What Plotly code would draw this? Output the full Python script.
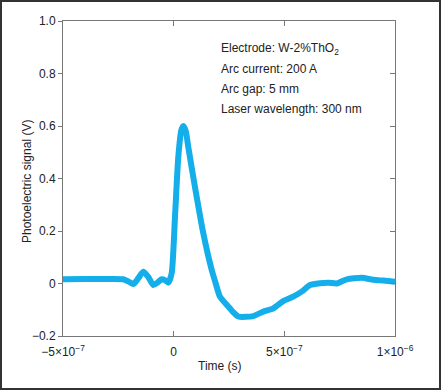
import plotly.graph_objects as go

# time in units of 1e-7 s
time_e7 = [-5.0, -4.0, -3.0, -2.28, -2.05, -1.82, -1.6, -1.37, -1.15, -0.92, -0.72, -0.54, -0.38, -0.24,
           -0.09, 0.06, 0.21, 0.35, 0.44, 0.55, 0.66, 0.96, 1.34, 1.72, 1.9, 2.09, 2.47, 2.7, 2.92,
           3.25, 3.60, 4.05, 4.50, 4.95, 5.40, 5.8, 6.16, 6.61, 7.0, 7.37, 7.82, 8.50, 9.02, 9.5, 10.0]
signal = [0.016, 0.017, 0.017, 0.016, 0.008, -0.002, 0.02, 0.045, 0.025, -0.006, 0.004, 0.016, 0.012, 0.003,
          0.039, 0.254, 0.483, 0.585, 0.600, 0.580, 0.520, 0.369, 0.191, 0.051, 0.0, -0.05, -0.088, -0.11, -0.126,
          -0.127, -0.124, -0.107, -0.095, -0.067, -0.05, -0.03, -0.006, 0.001, 0.003, 0.0, 0.016, 0.022, 0.014, 0.011, 0.007]

time_s = [t * 1e-7 for t in time_e7]

x_tickvals = [-5e-7, 0, 5e-7, 1e-6]
x_ticktext = ["\u22125\u00d710<sup>\u22127</sup>", "0", "5\u00d710<sup>\u22127</sup>", "1\u00d710<sup>\u22126</sup>"]
y_tickvals = [-0.2, 0, 0.2, 0.4, 0.6, 0.8, 1.0]
y_ticktext = ["\u22120.2", "0", "0.2", "0.4", "0.6", "0.8", "1.0"]

info_lines = ["Electrode: W-2%ThO<sub>2</sub>", "Arc current: 200 A", "Arc gap: 5 mm", "Laser wavelength: 300 nm"]
x_title = "Time (s)"
y_title = "Photoelectric signal (V)"

W, H = 441, 390
ml, mr, mt, mb = 63, 46, 21, 54
pw, ph = W - ml - mr, H - mt - mb
FONT = "Liberation Sans, Arial, sans-serif"
AX = "#777777"
TXT = "#222222"


def px_x(p):
    return (p - ml) / pw


def px_y(p):
    return 1 - (p - mt) / ph


fig = go.Figure()
fig.add_trace(go.Scatter(x=time_s, y=signal, mode="lines",
                         line=dict(color="#14AEEA", width=6, shape="spline", smoothing=0.6),
                         showlegend=False, hoverinfo="skip"))
# helper trace so the right-hand axis is drawn
fig.add_trace(go.Scatter(x=[time_s[0]], y=[signal[0]], yaxis="y2", mode="markers",
                         marker=dict(opacity=0), showlegend=False, hoverinfo="skip"))

fig.update_xaxes(range=[-5e-7, 1e-6], tickvals=x_tickvals, ticktext=x_ticktext,
                 showgrid=False, zeroline=False, showline=True, linecolor=AX, linewidth=1,
                 mirror="ticks", ticks="inside", ticklen=5, tickcolor=AX, ticklabelstandoff=5,
                 tickfont=dict(family=FONT, size=12, color=TXT))
fig.update_layout(
    yaxis=dict(range=[-0.2, 1.0], tickvals=y_tickvals, ticktext=y_ticktext,
               showgrid=False, zeroline=False, showline=True, linecolor=AX, linewidth=1,
               mirror=True, ticks="outside", ticklen=4, tickcolor=AX,
               tickfont=dict(family=FONT, size=12, color=TXT)),
    yaxis2=dict(range=[-0.2, 1.0], tickvals=y_tickvals, overlaying="y", side="right",
                showgrid=False, zeroline=False, showline=False, showticklabels=False,
                ticks="inside", ticklen=5, tickcolor=AX),
)

# axis titles
fig.add_annotation(x=px_x(220), y=px_y(366), xref="paper", yref="paper", text=x_title,
                   showarrow=False, xanchor="center", yanchor="middle",
                   font=dict(family=FONT, size=12, color=TXT))
fig.add_annotation(x=px_x(27), y=px_y(182), xref="paper", yref="paper", text=y_title,
                   showarrow=False, xanchor="center", yanchor="middle", textangle=-90,
                   font=dict(family=FONT, size=12, color=TXT))

for i, txt in enumerate(info_lines):
    fig.add_annotation(x=px_x(219), y=px_y(49 + 20 * i), xref="paper", yref="paper",
                       text=txt, showarrow=False, xanchor="left", yanchor="middle",
                       font=dict(family=FONT, size=12, color=TXT))

# outer frame around the whole figure
fig.add_shape(type="rect", xref="paper", yref="paper",
              x0=px_x(1), x1=px_x(W - 1), y0=px_y(H - 1), y1=px_y(1),
              line=dict(color="#333333", width=2), fillcolor="rgba(0,0,0,0)", layer="above")

fig.update_layout(width=W, height=H, margin=dict(l=ml, r=mr, t=mt, b=mb, autoexpand=False),
                  paper_bgcolor="white", plot_bgcolor="white")

fig.write_html("out.html", config={"displayModeBar": False},
               post_script="document.body.style.margin='0';document.body.style.overflow='hidden';")
